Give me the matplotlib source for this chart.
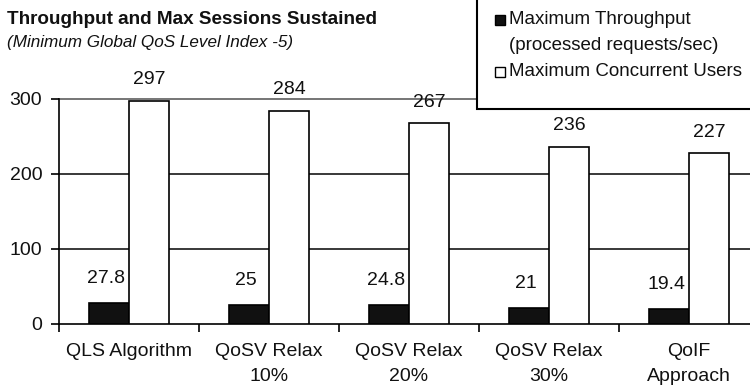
import matplotlib
matplotlib.use("Agg")
import matplotlib.pyplot as plt
from matplotlib.patches import Rectangle
import numpy as np

plt.rcParams['font.family'] = ['Liberation Sans', 'DejaVu Sans']

categories = ["QLS Algorithm", "QoSV Relax\n10%", "QoSV Relax\n20%",
              "QoSV Relax\n30%", "QoIF\nApproach"]
throughput = [27.8, 25, 24.8, 21, 19.4]
throughput_labels = ["27.8", "25", "24.8", "21", "19.4"]
users = [297, 284, 267, 236, 227]
users_labels = ["297", "284", "267", "236", "227"]
y_ticks = [0, 100, 200, 300]

W, H = 750, 389
fig = plt.figure(figsize=(W / 100, H / 100), dpi=100)

def px(x0, y0, x1, y1):
    # rectangle given in pixel coords (origin top-left) -> figure fraction
    return [x0 / W, 1 - y1 / H, (x1 - x0) / W, (y1 - y0) / H]

ax = fig.add_axes(px(59, 98.5, 759, 324))
ax.set_facecolor('white')

n = len(categories)
x = np.arange(n)
bw = 0.2857
ax.bar(x - bw / 2, throughput, bw, color='#111111', edgecolor='black',
       linewidth=1.2, zorder=3)
ax.bar(x + bw / 2, users, bw, color='white', edgecolor='black',
       linewidth=1.2, zorder=3)

for xi, v, s in zip(x, throughput, throughput_labels):
    ax.annotate(s, (xi - bw / 2, v), xytext=(-2, 18), textcoords='offset points',
                ha='center', va='center', fontsize=14, color='#111111')
for xi, v, s in zip(x, users, users_labels):
    ax.annotate(s, (xi + bw / 2, v), xytext=(0, 15), textcoords='offset points',
                ha='center', va='center', fontsize=14, color='#111111',
                annotation_clip=False)

ax.set_xlim(-0.5, n - 0.5)
ax.set_ylim(0, 300)

# horizontal gridlines; the top one is lighter, like a plot-area border
for t in y_ticks[1:]:
    c = '#6a6a6a' if t == y_ticks[-1] else '#2a2a2a'
    ax.axhline(t, color=c, linewidth=1.3, zorder=1, clip_on=False)

ax.set_yticks(y_ticks)
ax.set_yticklabels([str(t) for t in y_ticks])
ax.tick_params(axis='y', length=6, width=1.2, pad=6, labelsize=14,
               direction='out', colors='black', labelcolor='#111111')

# ticks at category boundaries, labels at centres
ax.set_xticks(np.arange(n + 1) - 0.5)
ax.set_xticklabels([''] * (n + 1))
ax.tick_params(axis='x', which='major', length=6, width=1.2, direction='out')
ax.set_xticks(x, minor=True)
ax.set_xticklabels(categories, minor=True, fontsize=14, linespacing=1.55,
                   color='#111111')
ax.tick_params(axis='x', which='minor', length=0, pad=14)

for side in ('top', 'right'):
    ax.spines[side].set_visible(False)
ax.spines['left'].set_linewidth(1.2)
ax.spines['bottom'].set_linewidth(1.2)

# title block
fig.text(7 / W, 1 - 20 / H, "Throughput and Max Sessions Sustained",
         fontsize=13.6, fontweight='bold', ha='left', va='center',
         color='#111111')
fig.text(7 / W, 1 - 43 / H, "(Minimum Global QoS Level Index -5)",
         fontsize=12.3, fontstyle='italic', ha='left', va='center',
         color='#111111')

# legend box
fig.patches.append(Rectangle((477 / W, 1 - 109 / H), 300 / W, 120 / H,
                             transform=fig.transFigure, facecolor='white',
                             edgecolor='black', linewidth=1.5, zorder=5))
sq = 10
fig.patches.append(Rectangle((495 / W, 1 - (20 + sq / 2) / H), sq / W, sq / H,
                             transform=fig.transFigure, facecolor='#111111',
                             edgecolor='black', linewidth=1, zorder=6))
fig.patches.append(Rectangle((495 / W, 1 - (72 + sq / 2) / H), sq / W, sq / H,
                             transform=fig.transFigure, facecolor='white',
                             edgecolor='black', linewidth=1, zorder=6))
fig.text(509 / W, 1 - 20 / H, "Maximum Throughput", fontsize=13.5,
         ha='left', va='center', zorder=7, color='#111111')
fig.text(509 / W, 1 - 46 / H, "(processed requests/sec)", fontsize=13.5,
         ha='left', va='center', zorder=7, color='#111111')
fig.text(509 / W, 1 - 72 / H, "Maximum Concurrent Users", fontsize=13.5,
         ha='left', va='center', zorder=7, color='#111111')

fig.savefig("out.png", dpi=100)
